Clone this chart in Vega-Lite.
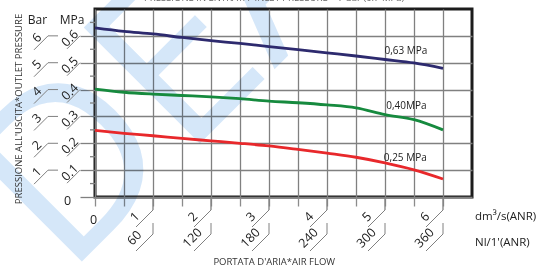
{
  "$schema": "https://vega.github.io/schema/vega-lite/v6.json",
  "width": 377,
  "height": 188,
  "autosize": {"type": "none"},
  "padding": {"left": 95, "top": 9, "right": 67, "bottom": 71},
  "background": "white",
  "config": {
    "view": {"stroke": "#1c1c1c", "strokeWidth": 3},
    "font": "Open Sans",
    "text": {"font": "Open Sans", "color": "#222222"}
  },
  "resolve": {"axis": {"x": "independent", "y": "independent"}},
  "datasets": {
    "curves": [
      {"s": "0.63", "x": 0, "y": 0.63}, {"s": "0.63", "x": 0.5, "y": 0.617}, {"s": "0.63", "x": 1, "y": 0.607}, {"s": "0.63", "x": 1.5, "y": 0.594}, {"s": "0.63", "x": 2, "y": 0.582}, {"s": "0.63", "x": 2.5, "y": 0.572}, {"s": "0.63", "x": 3, "y": 0.56}, {"s": "0.63", "x": 3.5, "y": 0.549}, {"s": "0.63", "x": 4, "y": 0.537}, {"s": "0.63", "x": 4.5, "y": 0.525}, {"s": "0.63", "x": 5, "y": 0.512}, {"s": "0.63", "x": 5.5, "y": 0.499}, {"s": "0.63", "x": 6, "y": 0.479},
      {"s": "0.40", "x": 0, "y": 0.402}, {"s": "0.40", "x": 0.5, "y": 0.39}, {"s": "0.40", "x": 1, "y": 0.383}, {"s": "0.40", "x": 1.5, "y": 0.378}, {"s": "0.40", "x": 2, "y": 0.373}, {"s": "0.40", "x": 2.5, "y": 0.366}, {"s": "0.40", "x": 3, "y": 0.357}, {"s": "0.40", "x": 3.5, "y": 0.351}, {"s": "0.40", "x": 4, "y": 0.343}, {"s": "0.40", "x": 4.5, "y": 0.332}, {"s": "0.40", "x": 5, "y": 0.307}, {"s": "0.40", "x": 5.5, "y": 0.288}, {"s": "0.40", "x": 6, "y": 0.25},
      {"s": "0.25", "x": 0, "y": 0.248}, {"s": "0.25", "x": 0.5, "y": 0.237}, {"s": "0.25", "x": 1, "y": 0.228}, {"s": "0.25", "x": 1.5, "y": 0.218}, {"s": "0.25", "x": 2, "y": 0.209}, {"s": "0.25", "x": 2.5, "y": 0.2}, {"s": "0.25", "x": 3, "y": 0.19}, {"s": "0.25", "x": 3.5, "y": 0.177}, {"s": "0.25", "x": 4, "y": 0.163}, {"s": "0.25", "x": 4.5, "y": 0.148}, {"s": "0.25", "x": 5, "y": 0.127}, {"s": "0.25", "x": 5.5, "y": 0.101}, {"s": "0.25", "x": 6, "y": 0.067}
    ],
    "yticks": [
      {"v": 0.1, "bar": "1", "mpa": "0.1"}, {"v": 0.2, "bar": "2", "mpa": "0.2"}, {"v": 0.3, "bar": "3", "mpa": "0.3"},
      {"v": 0.4, "bar": "4", "mpa": "0.4"}, {"v": 0.5, "bar": "5", "mpa": "0.5"}, {"v": 0.6, "bar": "6", "mpa": "0.6"}
    ],
    "yminor": [{"v": 0.05}, {"v": 0.15}, {"v": 0.25}, {"v": 0.35}, {"v": 0.45}, {"v": 0.55}, {"v": 0.65}],
    "xticks": [
      {"u": 1, "flow": "1", "nl": "60"}, {"u": 2, "flow": "2", "nl": "120"}, {"u": 3, "flow": "3", "nl": "180"},
      {"u": 4, "flow": "4", "nl": "240"}, {"u": 5, "flow": "5", "nl": "300"}, {"u": 6, "flow": "6", "nl": "360"}
    ]
  },
  "layer": [
    {
      "data": {"values": [{}]},
      "mark": {"type": "text", "fontSize": 230, "angle": -45, "align": "left", "baseline": "alphabetic", "color": "#d5e7f9", "blend": "multiply", "font": "Open Sans"},
      "encoding": {
        "x": {"datum": -0.5, "type": "quantitative", "scale": {"domain": [0, 6.5], "nice": false, "zero": false}, "axis": null},
        "y": {"datum": -0.3, "type": "quantitative", "scale": {"domain": [0, 0.7], "nice": false, "zero": false}, "axis": null},
        "text": {"datum": "DEA"}
      }
    },
    {
      "data": {"name": "curves"},
      "mark": {"type": "line", "strokeWidth": 2.8, "interpolate": "monotone"},
      "encoding": {
        "x": {"field": "x", "type": "quantitative", "scale": {"domain": [0, 6.5], "nice": false, "zero": false},
          "axis": {"orient": "bottom", "values": [0, 0.5, 1, 1.5, 2, 2.5, 3, 3.5, 4, 4.5, 5, 5.5, 6], "grid": true, "gridColor": "#808080", "gridWidth": 1.3, "ticks": true, "tickSize": 9, "tickColor": "#8c8c8c", "tickWidth": 1.3, "labels": false, "domain": false, "title": null}},
        "y": {"field": "y", "type": "quantitative", "scale": {"domain": [0, 0.7], "nice": false, "zero": false},
          "axis": {"orient": "left", "values": [0, 0.1, 0.2, 0.3, 0.4, 0.5, 0.6], "grid": true, "gridColor": "#808080", "gridWidth": 1.3, "ticks": true, "tickSize": 15, "tickColor": "#808080", "tickWidth": 1.3, "labels": false, "domain": false, "title": null}},
        "color": {"field": "s", "type": "nominal", "scale": {"domain": ["0.63", "0.40", "0.25"], "range": ["#2d2a6e", "#168a3e", "#e8282b"]}, "legend": null}
      }
    },
    {
      "data": {"name": "yminor"},
      "mark": {"type": "rule", "xOffset": -5, "color": "#808080", "strokeWidth": 1.3},
      "encoding": {"x": {"datum": 0, "type": "quantitative", "axis": null}, "x2": {"datum": 0}, "y": {"field": "v", "type": "quantitative", "axis": null}}
    },
    {
      "data": {"name": "yticks"},
      "mark": {"type": "rule", "xOffset": -47, "x2Offset": -37, "color": "#808080", "strokeWidth": 1},
      "encoding": {"x": {"datum": 0, "type": "quantitative", "axis": null}, "x2": {"datum": 0}, "y": {"field": "v", "type": "quantitative", "axis": null}}
    },
    {
      "data": {"name": "yticks"},
      "mark": {"type": "rule", "xOffset": -47, "x2Offset": -61, "yOffset": 0, "y2Offset": 14, "color": "#808080", "strokeWidth": 1},
      "encoding": {"x": {"datum": 0, "type": "quantitative", "axis": null}, "x2": {"datum": 0}, "y": {"field": "v", "type": "quantitative", "axis": null}, "y2": {"field": "v"}}
    },
    {
      "data": {"name": "yticks"},
      "mark": {"type": "rule", "xOffset": -15, "x2Offset": -28, "yOffset": 0, "y2Offset": 13, "color": "#808080", "strokeWidth": 1},
      "encoding": {"x": {"datum": 0, "type": "quantitative", "axis": null}, "x2": {"datum": 0}, "y": {"field": "v", "type": "quantitative", "axis": null}, "y2": {"field": "v"}}
    },
    {
      "data": {"name": "yticks"},
      "mark": {"type": "text", "angle": -45, "align": "center", "baseline": "middle", "fontSize": 12.5, "xOffset": -58, "yOffset": 2},
      "encoding": {"x": {"datum": 0, "type": "quantitative", "axis": null}, "y": {"field": "v", "type": "quantitative", "axis": null}, "text": {"field": "bar"}}
    },
    {
      "data": {"name": "yticks"},
      "mark": {"type": "text", "angle": -45, "align": "center", "baseline": "middle", "fontSize": 12.5, "xOffset": -25, "yOffset": 2.5},
      "encoding": {"x": {"datum": 0, "type": "quantitative", "axis": null}, "y": {"field": "v", "type": "quantitative", "axis": null}, "text": {"field": "mpa"}}
    },
    {
      "data": {"name": "xticks"},
      "mark": {"type": "rule", "yOffset": 0, "y2Offset": 13, "color": "#808080", "strokeWidth": 1.3},
      "encoding": {"x": {"field": "u", "type": "quantitative", "axis": null}, "y": {"datum": 0, "type": "quantitative", "axis": null}, "y2": {"datum": 0}}
    },
    {
      "data": {"name": "xticks"},
      "mark": {"type": "rule", "x2Offset": -17, "yOffset": 13, "y2Offset": 30, "color": "#808080", "strokeWidth": 1},
      "encoding": {"x": {"field": "u", "type": "quantitative", "axis": null}, "x2": {"field": "u"}, "y": {"datum": 0, "type": "quantitative", "axis": null}, "y2": {"datum": 0}}
    },
    {
      "data": {"name": "xticks"},
      "mark": {"type": "rule", "yOffset": 26, "y2Offset": 37, "color": "#808080", "strokeWidth": 1},
      "encoding": {"x": {"field": "u", "type": "quantitative", "axis": null}, "y": {"datum": 0, "type": "quantitative", "axis": null}, "y2": {"datum": 0}}
    },
    {
      "data": {"name": "xticks"},
      "mark": {"type": "rule", "x2Offset": -17, "yOffset": 37, "y2Offset": 54, "color": "#808080", "strokeWidth": 1},
      "encoding": {"x": {"field": "u", "type": "quantitative", "axis": null}, "x2": {"field": "u"}, "y": {"datum": 0, "type": "quantitative", "axis": null}, "y2": {"datum": 0}}
    },
    {
      "data": {"name": "xticks"},
      "mark": {"type": "text", "angle": -45, "align": "center", "baseline": "middle", "fontSize": 12.5, "xOffset": -18, "yOffset": 20},
      "encoding": {"x": {"field": "u", "type": "quantitative", "axis": null}, "y": {"datum": 0, "type": "quantitative", "axis": null}, "text": {"field": "flow"}}
    },
    {
      "data": {"name": "xticks"},
      "mark": {"type": "text", "angle": -45, "align": "center", "baseline": "middle", "fontSize": 12.5, "xOffset": -18.5, "yOffset": 41},
      "encoding": {"x": {"field": "u", "type": "quantitative", "axis": null}, "y": {"datum": 0, "type": "quantitative", "axis": null}, "text": {"field": "nl"}}
    },
    {
      "data": {"values": [{}]},
      "mark": {"type": "text", "align": "center", "baseline": "middle", "fontSize": 12.5, "xOffset": -27.5, "yOffset": 4},
      "encoding": {"x": {"datum": 0, "type": "quantitative", "axis": null}, "y": {"datum": 0, "type": "quantitative", "axis": null}, "text": {"datum": "0"}}
    },
    {
      "data": {"values": [{}]},
      "mark": {"type": "text", "align": "center", "baseline": "middle", "fontSize": 12.5, "xOffset": -1.5, "yOffset": 23},
      "encoding": {"x": {"datum": 0, "type": "quantitative", "axis": null}, "y": {"datum": 0, "type": "quantitative", "axis": null}, "text": {"datum": "0"}}
    },
    {
      "data": {"values": [{}]},
      "mark": {"type": "text", "align": "center", "baseline": "middle", "fontSize": 12, "xOffset": -57.5, "yOffset": 11},
      "encoding": {"x": {"datum": 0, "type": "quantitative", "axis": null}, "y": {"datum": 0.7, "type": "quantitative", "axis": null}, "text": {"datum": "Bar"}}
    },
    {
      "data": {"values": [{}]},
      "mark": {"type": "text", "align": "center", "baseline": "middle", "fontSize": 12, "xOffset": -23, "yOffset": 11},
      "encoding": {"x": {"datum": 0, "type": "quantitative", "axis": null}, "y": {"datum": 0.7, "type": "quantitative", "axis": null}, "text": {"datum": "MPa"}}
    },
    {
      "data": {"values": [{}]},
      "mark": {"type": "text", "align": "left", "baseline": "middle", "fontSize": 11.5, "xOffset": 3, "yOffset": 20},
      "encoding": {"x": {"datum": 6.5, "type": "quantitative", "axis": null}, "y": {"datum": 0, "type": "quantitative", "axis": null}, "text": {"datum": "dm³/s(ANR)"}}
    },
    {
      "data": {"values": [{}]},
      "mark": {"type": "text", "align": "left", "baseline": "middle", "fontSize": 11.5, "xOffset": 3, "yOffset": 46},
      "encoding": {"x": {"datum": 6.5, "type": "quantitative", "axis": null}, "y": {"datum": 0, "type": "quantitative", "axis": null}, "text": {"datum": "Nl/1'(ANR)"}}
    },
    {
      "data": {"values": [{}]},
      "mark": {"type": "text", "align": "center", "baseline": "middle", "fontSize": 9.5, "angle": -90, "xOffset": -76, "yOffset": 6, "color": "#333333"},
      "encoding": {"x": {"datum": 0, "type": "quantitative", "axis": null}, "y": {"datum": 0.35, "type": "quantitative", "axis": null}, "text": {"datum": "PRESSIONE ALL'USCITA*OUTLET PRESSURE"}}
    },
    {
      "data": {"values": [{}]},
      "mark": {"type": "text", "align": "center", "baseline": "middle", "fontSize": 9.5, "yOffset": 65, "color": "#333333"},
      "encoding": {"x": {"datum": 3.09, "type": "quantitative", "axis": null}, "y": {"datum": 0, "type": "quantitative", "axis": null}, "text": {"datum": "PORTATA D'ARIA*AIR FLOW"}}
    },
    {
      "data": {"values": [{}]},
      "mark": {"type": "text", "align": "center", "baseline": "bottom", "fontSize": 9.5, "yOffset": -6, "color": "#666666"},
      "encoding": {"x": {"datum": 3.09, "type": "quantitative", "axis": null}, "y": {"datum": 0.7, "type": "quantitative", "axis": null}, "text": {"datum": "PRESSIONE IN ENTRATA*INLET PRESSURE = 7 bar (0.7 MPa)"}}
    },
    {
      "data": {"values": [{}]},
      "mark": {"type": "text", "align": "center", "baseline": "middle", "fontSize": 10},
      "encoding": {"x": {"datum": 5.36, "type": "quantitative", "axis": null}, "y": {"datum": 0.542, "type": "quantitative", "axis": null}, "text": {"datum": "0,63 MPa"}}
    },
    {
      "data": {"values": [{}]},
      "mark": {"type": "text", "align": "center", "baseline": "middle", "fontSize": 10},
      "encoding": {"x": {"datum": 5.37, "type": "quantitative", "axis": null}, "y": {"datum": 0.339, "type": "quantitative", "axis": null}, "text": {"datum": "0,40MPa"}}
    },
    {
      "data": {"values": [{}]},
      "mark": {"type": "text", "align": "center", "baseline": "middle", "fontSize": 10},
      "encoding": {"x": {"datum": 5.35, "type": "quantitative", "axis": null}, "y": {"datum": 0.145, "type": "quantitative", "axis": null}, "text": {"datum": "0,25 MPa"}}
    }
  ]
}
